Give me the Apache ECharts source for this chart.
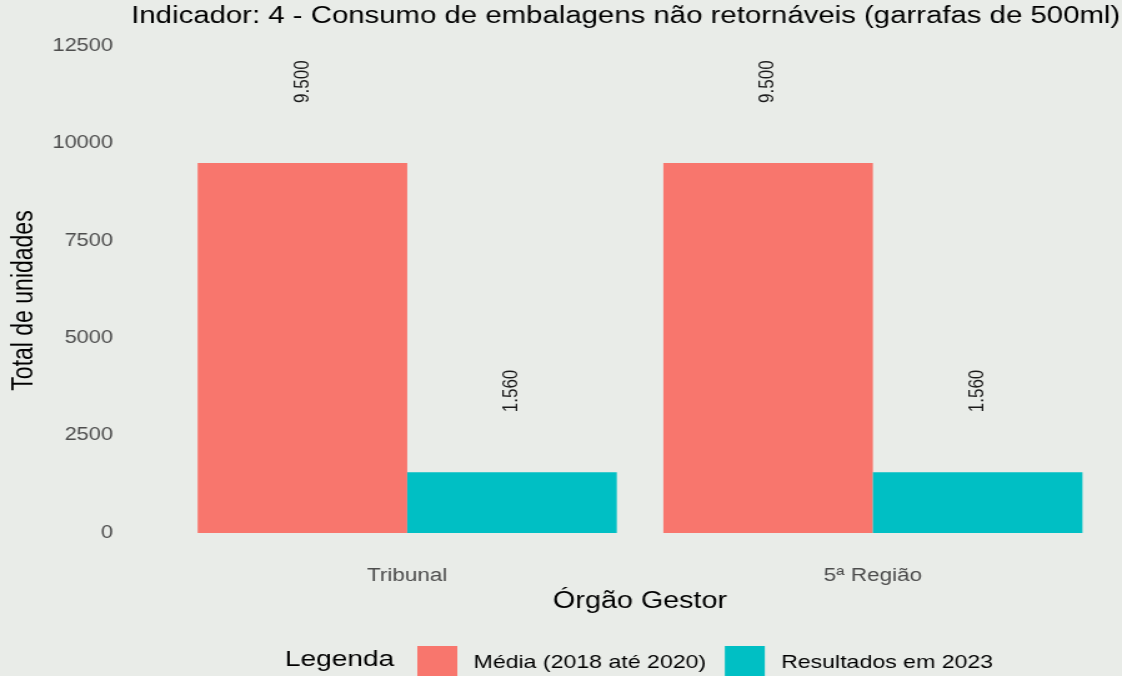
<!DOCTYPE html>
<html>
<head>
<meta charset="utf-8">
<script src="https://cdn.jsdelivr.net/npm/echarts@6/dist/echarts.min.js"></script>
<style>
html, body { margin:0; padding:0; width:1122px; height:676px; overflow:hidden; background:#e9ece8; }
#chart { width:898px; height:676px; transform:scaleX(1.2494); transform-origin:0 0; }
</style>
</head>
<body>
<div id="chart"></div>
<script>
const categories = ['Tribunal', '5ª Região'];
const seriesNames = ['Média (2018 até 2020)', 'Resultados em 2023'];
const mediaValues = [9500, 9500];
const resultados2023 = [1560, 1560];
const yTicks = [0, 2500, 5000, 7500, 10000, 12500];

const FONT = '"Liberation Sans", Arial, sans-serif';
function fmtBR(v) {
  return String(v).replace(/\B(?=(\d{3})+(?!\d))/g, '.');
}
const labelCfg = {
  show: true, position: 'top', rotate: 90, distance: 58, offset: [2, 0],
  align: 'left', verticalAlign: 'middle',
  fontSize: 17, color: '#1a1a1a', fontFamily: FONT,
  formatter: p => fmtBR(p.value)
};

const chart = echarts.init(document.getElementById('chart'), null, {renderer: 'canvas'});
chart.setOption({
  animation: false,
  backgroundColor: 'transparent',
  textStyle: { fontFamily: FONT },
  title: [
    { text: 'Indicador: 4 - Consumo de embalagens não retornáveis (garrafas de 500ml)',
      left: 105, top: 5, padding: 0,
      textStyle: { fontSize: 23.5, fontWeight: 'normal', color: '#000', fontFamily: FONT } },
    { text: 'Legenda', left: 228, top: 648, padding: 0,
      textStyle: { fontSize: 22.5, fontWeight: 'normal', color: '#000', fontFamily: FONT } }
  ],
  legend: {
    data: seriesNames,
    left: 334, top: 646, padding: 0,
    itemWidth: 32, itemHeight: 34, itemGap: 15,
    icon: 'rect',
    textStyle: { fontSize: 18.5, color: '#000', fontFamily: FONT, padding: [0, 0, 0, 8] }
  },
  grid: { left: 137, right: 13, top: 46, bottom: 143, containLabel: false },
  xAxis: {
    type: 'category', data: categories,
    axisLine: { show: false }, axisTick: { show: false }, splitLine: { show: false },
    axisLabel: { fontSize: 18, color: '#4d4d4d', margin: 34, fontFamily: FONT },
    name: 'Órgão Gestor', nameLocation: 'middle', nameGap: 56,
    nameTextStyle: { fontSize: 23, color: '#000', fontFamily: FONT }
  },
  yAxis: {
    type: 'value', min: yTicks[0], max: yTicks[yTicks.length - 1], interval: 2500,
    axisLine: { show: false }, axisTick: { show: false }, splitLine: { show: false },
    axisLabel: { fontSize: 17.5, color: '#4d4d4d', margin: 49, fontFamily: FONT,
      formatter: v => String(v) },
    name: 'Total de unidades', nameLocation: 'middle', nameGap: 96,
    nameTextStyle: { fontSize: 23, color: '#000', fontFamily: FONT, padding: [0, 22, 0, 0] }
  },
  series: [
    { name: seriesNames[0], type: 'bar', data: mediaValues, barGap: 0, barCategoryGap: '10%',
      itemStyle: { color: '#F8766D' }, label: labelCfg },
    { name: seriesNames[1], type: 'bar', data: resultados2023, barGap: 0, barCategoryGap: '10%',
      itemStyle: { color: '#00BFC4' }, label: labelCfg }
  ]
});
</script>
</body>
</html>
